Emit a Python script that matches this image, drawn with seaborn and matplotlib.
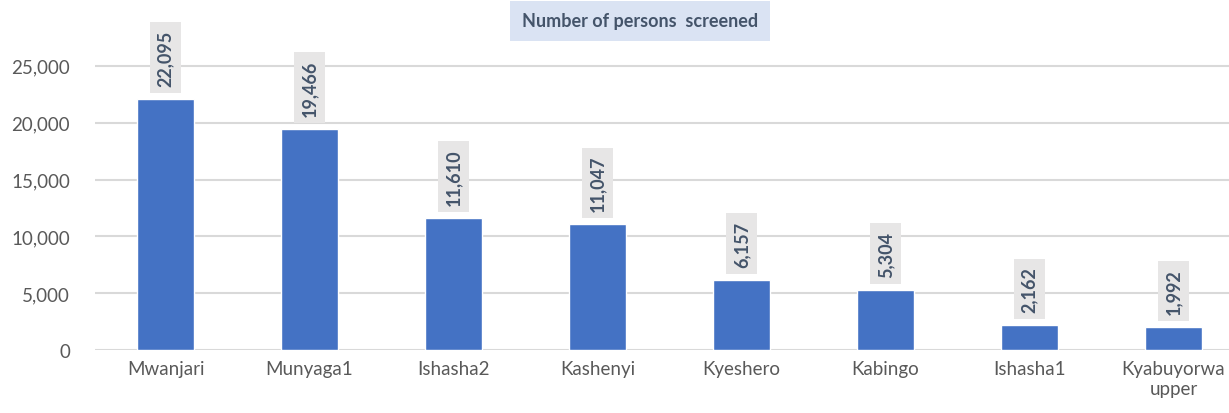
import matplotlib
matplotlib.use("Agg")
import matplotlib.pyplot as plt
import seaborn as sns
import pandas as pd

# datos
sitios = ["Mwanjari", "Munyaga1", "Ishasha2", "Kashenyi", "Kyeshero",
          "Kabingo", "Ishasha1", "Kyabuyorwa\nupper"]
personas = [22095, 19466, 11610, 11047, 6157, 5304, 2162, 1992]
yticks = [0, 5000, 10000, 15000, 20000, 25000]
titulo = "Number of persons  screened"

df = pd.DataFrame({"sitio": sitios, "personas": personas})

sns.set_theme(style="white")
plt.rcParams["font.family"] = ["Lato", "DejaVu Sans"]

fig = plt.figure(figsize=(12.29, 4.14), dpi=100)
ax = fig.add_axes([95 / 1229, (414 - 351) / 414, 1134 / 1229, (351 - 10) / 414])

sns.barplot(data=df, x="sitio", y="personas", color="#4472C4", width=0.4,
            saturation=1, ax=ax, zorder=3)

ax.set_xlim(-0.49, 7.385)
ax.set_ylim(0, 30000)
ax.set_yticks(yticks)
ax.set_yticklabels([f"{v:,}" for v in yticks], fontsize=13.5, color="#595959")
ax.tick_params(axis="x", labelsize=13.5, labelcolor="#595959", length=0, pad=7)
ax.tick_params(axis="y", length=0, pad=18)
ax.set_xlabel("")
ax.set_ylabel("")
for lado in ["top", "right", "left", "bottom"]:
    ax.spines[lado].set_visible(False)
for v in yticks:
    ax.axhline(v, color="#D9D9D9", linewidth=1.5, zorder=1)

# etiquetas de valor giradas con fondo gris
for i, v in enumerate(personas):
    ax.annotate(f"{v:,}", (i, v), xytext=(0, 9.5), textcoords="offset points",
                rotation=90, ha="center", va="bottom", fontsize=13,
                fontweight="bold", color="#44546A",
                bbox=dict(boxstyle="square,pad=0.4", facecolor="#E7E6E6",
                          edgecolor="none"), zorder=4)

fig.text(640 / 1229, 1 - 22 / 414, titulo, ha="center", va="center",
         fontsize=13, fontweight="bold", color="#44546A",
         bbox=dict(boxstyle="square,pad=0.65", facecolor="#DAE3F3",
                   edgecolor="none"))

fig.savefig("out.png", dpi=100)
